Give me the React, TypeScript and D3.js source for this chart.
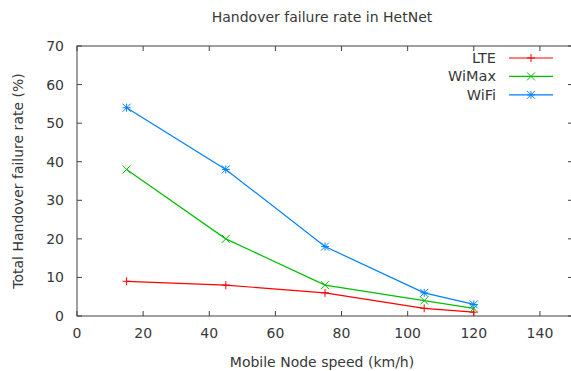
import { useRef, useEffect } from 'react';
import * as d3 from 'd3';

const speeds = [15, 45, 75, 105, 120];
const lteRate = [9, 8, 6, 2, 1];
const wimaxRate = [38, 20, 8, 4, 2];
const wifiRate = [54, 38, 18, 6, 3];
const xTicks = [0, 20, 40, 60, 80, 100, 120, 140];
const yTicks = [0, 10, 20, 30, 40, 50, 60, 70];

const seriesList = [
    { name: 'LTE', values: lteRate, color: '#ff0000', marker: 'plus' },
    { name: 'WiMax', values: wimaxRate, color: '#00c000', marker: 'cross' },
    { name: 'WiFi', values: wifiRate, color: '#0080ff', marker: 'star' },
];

const App = () => {
    const svgRef = useRef<SVGSVGElement | null>(null);

    useEffect(() => {
        const svgElement = svgRef.current;
        if (!svgElement) return;

        const width = 571;
        const height = 371;
        const margin = { top: 46, right: -2, bottom: 55, left: 77 };

        const svg = d3.select(svgElement);
        svg.selectAll('*').remove();

        const x = d3.scaleLinear().domain([0, 150]).range([margin.left, width - margin.right]);
        const y = d3.scaleLinear().domain([0, 70]).range([height - margin.bottom, margin.top]);

        const font = '"DejaVu Sans", Verdana, sans-serif';
        const textColor = '#383838';
        const axisColor = '#404040';
        const tick = 5;

        // frame
        svg.append('rect')
            .attr('x', x(0))
            .attr('y', y(70))
            .attr('width', x(150) - x(0))
            .attr('height', y(0) - y(70))
            .attr('fill', 'none')
            .attr('stroke', axisColor)
            .attr('stroke-width', 1);

        // x ticks (bottom and top, inward)
        xTicks.forEach(t => {
            svg.append('line')
                .attr('x1', x(t)).attr('x2', x(t))
                .attr('y1', y(0)).attr('y2', y(0) - tick)
                .attr('stroke', axisColor);
            svg.append('line')
                .attr('x1', x(t)).attr('x2', x(t))
                .attr('y1', y(70)).attr('y2', y(70) + tick)
                .attr('stroke', axisColor);
            svg.append('text')
                .attr('x', x(t))
                .attr('y', y(0) + 22)
                .attr('text-anchor', 'middle')
                .style('font-family', font)
                .style('font-size', '14px')
                .style('fill', textColor)
                .text(t);
        });

        // y ticks (left and right, inward)
        yTicks.forEach(t => {
            svg.append('line')
                .attr('x1', x(0)).attr('x2', x(0) + tick)
                .attr('y1', y(t)).attr('y2', y(t))
                .attr('stroke', axisColor);
            svg.append('line')
                .attr('x1', x(150)).attr('x2', x(150) - tick)
                .attr('y1', y(t)).attr('y2', y(t))
                .attr('stroke', axisColor);
            svg.append('text')
                .attr('x', x(0) - 13)
                .attr('y', y(t) + 5)
                .attr('text-anchor', 'end')
                .style('font-family', font)
                .style('font-size', '14px')
                .style('fill', textColor)
                .text(t);
        });

        // titles
        svg.append('text')
            .attr('x', 322)
            .attr('y', 22)
            .attr('text-anchor', 'middle')
            .style('font-family', font)
            .style('font-size', '14px')
            .style('fill', textColor)
            .text('Handover failure rate in HetNet');

        svg.append('text')
            .attr('x', 322)
            .attr('y', 367)
            .attr('text-anchor', 'middle')
            .style('font-family', font)
            .style('font-size', '14px')
            .style('fill', textColor)
            .text('Mobile Node speed (km/h)');

        svg.append('text')
            .attr('transform', `translate(23, 181) rotate(-90)`)
            .attr('text-anchor', 'middle')
            .style('font-family', font)
            .style('font-size', '14px')
            .style('fill', textColor)
            .text('Total Handover failure rate (%)');

        const drawMarker = (g: d3.Selection<SVGGElement, unknown, null, undefined>, cx: number, cy: number, kind: string, color: string) => {
            const s = 4;
            const lines: number[][] = [];
            if (kind === 'plus' || kind === 'star') {
                lines.push([cx - s, cy, cx + s, cy], [cx, cy - s, cx, cy + s]);
            }
            if (kind === 'cross' || kind === 'star') {
                lines.push([cx - s, cy - s, cx + s, cy + s], [cx - s, cy + s, cx + s, cy - s]);
            }
            lines.forEach(l => {
                g.append('line')
                    .attr('x1', l[0]).attr('y1', l[1])
                    .attr('x2', l[2]).attr('y2', l[3])
                    .attr('stroke', color)
                    .attr('stroke-width', 1);
            });
        };

        const line = d3.line<number>()
            .x((_, i) => x(speeds[i]))
            .y(d => y(d));

        seriesList.forEach((s, si) => {
            const g = svg.append('g');
            g.append('path')
                .datum(s.values)
                .attr('fill', 'none')
                .attr('stroke', s.color)
                .attr('stroke-width', 1.2)
                .attr('d', line);
            s.values.forEach((v, i) => drawMarker(g, x(speeds[i]), y(v), s.marker, s.color));

            // legend
            const ly = 58 + si * 18.4;
            svg.append('text')
                .attr('x', 496)
                .attr('y', ly + 5)
                .attr('text-anchor', 'end')
                .style('font-family', font)
                .style('font-size', '14.5px')
                .style('fill', textColor)
                .text(s.name);
            svg.append('line')
                .attr('x1', 509).attr('x2', 553)
                .attr('y1', ly).attr('y2', ly)
                .attr('stroke', s.color)
                .attr('stroke-width', 1.2);
            drawMarker(g, 531, ly, s.marker, s.color);
        });
    }, []);

    return (
        <svg ref={svgRef} width={571} height={371}
            style={{ position: 'absolute', left: 0, top: 0, background: '#fff' }}></svg>
    );
};

export default App;
